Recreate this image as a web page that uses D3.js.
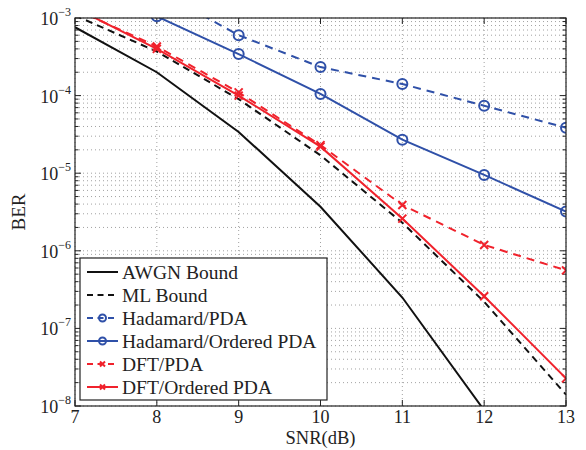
<!DOCTYPE html>
<html>
<head>
<meta charset="utf-8">
<script src="https://cdn.jsdelivr.net/npm/d3@7"></script>
<style>
  body { margin: 0; background: #fff; }
  text { font-family: "Liberation Serif", "DejaVu Serif", serif; fill: #222; }
</style>
</head>
<body>
<svg id="chart" width="586" height="450"></svg>
<script>
// SNR points (dB)
var snr = [7, 8, 9, 10, 11, 12, 13];

// BER values
var awgnBound = [7.6e-4, 2.0e-4, 3.4e-5, 3.7e-6, 2.5e-7, 8.8e-9];
var mlBound = [1.08e-3, 3.7e-4, 9.0e-5, 1.7e-5, 2.3e-6, 2.2e-7, 1.4e-8];
var hadamardPda = [6.0e-3, 2.3e-3, 6.0e-4, 2.33e-4, 1.41e-4, 7.4e-5, 3.85e-5];
var hadamardOrdered = [3.2e-3, 1.05e-3, 3.43e-4, 1.05e-4, 2.7e-5, 9.5e-6, 3.2e-6];
var dftPda = [1.3e-3, 4.3e-4, 1.1e-4, 2.3e-5, 3.9e-6, 1.19e-6, 5.6e-7];
var dftOrdered = [1.35e-3, 4.0e-4, 1.0e-4, 2.2e-5, 2.6e-6, 2.6e-7, 2.27e-8];

var xTicks = [7, 8, 9, 10, 11, 12, 13];
var yDecades = [-3, -4, -5, -6, -7, -8];

var blue = "#2f50a8", red = "#f0222c";

var series = [
  { name: "AWGN Bound", values: awgnBound, color: "#111", dash: null, marker: null },
  { name: "ML Bound", values: mlBound, color: "#111", dash: "7,5", marker: null },
  { name: "Hadamard/PDA", values: hadamardPda, color: blue, dash: "8,6", marker: "circle" },
  { name: "Hadamard/Ordered PDA", values: hadamardOrdered, color: blue, dash: null, marker: "circle" },
  { name: "DFT/PDA", values: dftPda, color: red, dash: "8,6", marker: "cross" },
  { name: "DFT/Ordered PDA", values: dftOrdered, color: red, dash: null, marker: "cross" }
];

var svg = d3.select("#chart");
var m = { left: 75, right: 566, top: 18, bottom: 406 };

var x = d3.scaleLinear().domain([7, 13]).range([m.left, m.right]);
var y = d3.scaleLog().domain([1e-8, 1e-3]).range([m.bottom, m.top]);

svg.append("defs").append("clipPath").attr("id", "clip")
  .append("rect")
  .attr("x", m.left).attr("y", m.top)
  .attr("width", m.right - m.left).attr("height", m.bottom - m.top);

// minor + major y values
var yAll = [];
for (var e = -8; e < -3; e++) {
  for (var k = 1; k <= 9; k++) yAll.push(k * Math.pow(10, e));
}
yAll.push(1e-3);

// grid
var grid = svg.append("g");
grid.selectAll(".gy").data(yAll).enter().append("line")
  .attr("x1", m.left).attr("x2", m.right)
  .attr("y1", d => y(d)).attr("y2", d => y(d))
  .attr("stroke", "#8a8a8a").attr("stroke-width", 0.8)
  .attr("stroke-dasharray", "1,3");
grid.selectAll(".gx").data(xTicks).enter().append("line")
  .attr("x1", d => x(d)).attr("x2", d => x(d))
  .attr("y1", m.top).attr("y2", m.bottom)
  .attr("stroke", "#8a8a8a").attr("stroke-width", 0.8)
  .attr("stroke-dasharray", "1,3");

// ticks (inward, all four sides)
var ticks = svg.append("g").attr("stroke", "#222").attr("stroke-width", 1);
yAll.forEach(function(v) {
  var major = Math.abs(Math.log10(v) - Math.round(Math.log10(v))) < 1e-9;
  var len = major ? 6 : 3.5;
  ticks.append("line").attr("x1", m.left).attr("x2", m.left + len).attr("y1", y(v)).attr("y2", y(v));
  ticks.append("line").attr("x1", m.right).attr("x2", m.right - len).attr("y1", y(v)).attr("y2", y(v));
});
xTicks.forEach(function(v) {
  ticks.append("line").attr("x1", x(v)).attr("x2", x(v)).attr("y1", m.bottom).attr("y2", m.bottom - 6);
  ticks.append("line").attr("x1", x(v)).attr("x2", x(v)).attr("y1", m.top).attr("y2", m.top + 6);
});

// series lines
var line = d3.line()
  .x((d, i) => x(snr[i]))
  .y(d => y(d));

var plot = svg.append("g").attr("clip-path", "url(#clip)");

function drawMarker(g, type, cx, cy, color) {
  if (type === "circle") {
    g.append("circle").attr("cx", cx).attr("cy", cy).attr("r", 5)
      .attr("fill", "none").attr("stroke", color).attr("stroke-width", 2);
  } else if (type === "cross") {
    var s = 4;
    g.append("path")
      .attr("d", "M" + (cx - s) + "," + (cy - s) + "L" + (cx + s) + "," + (cy + s) +
                 "M" + (cx - s) + "," + (cy + s) + "L" + (cx + s) + "," + (cy - s))
      .attr("stroke", color).attr("stroke-width", 2).attr("fill", "none");
  }
}

series.forEach(function(s) {
  plot.append("path")
    .datum(s.values)
    .attr("d", line)
    .attr("fill", "none")
    .attr("stroke", s.color)
    .attr("stroke-width", 2)
    .attr("stroke-dasharray", s.dash);
  if (s.marker) {
    s.values.forEach(function(v, i) {
      drawMarker(plot, s.marker, x(snr[i]), y(v), s.color);
    });
  }
});

// axes box
svg.append("rect")
  .attr("x", m.left).attr("y", m.top)
  .attr("width", m.right - m.left).attr("height", m.bottom - m.top)
  .attr("fill", "none").attr("stroke", "#222").attr("stroke-width", 1.2);

// y tick labels
var yl = svg.append("g");
yDecades.forEach(function(p) {
  var t = yl.append("text")
    .attr("x", 71).attr("y", y(Math.pow(10, p)) + 7)
    .attr("text-anchor", "end")
    .style("font-size", "18px");
  t.append("tspan").text("10");
  t.append("tspan").attr("dy", -9).style("font-size", "12px").text("\u2212" + (-p));
});

// x tick labels
svg.selectAll(".xl").data(xTicks).enter().append("text")
  .attr("x", d => x(d)).attr("y", 423)
  .attr("text-anchor", "middle")
  .style("font-size", "18px")
  .text(d => d);

svg.append("text")
  .attr("x", (m.left + m.right) / 2).attr("y", 444)
  .attr("text-anchor", "middle")
  .style("font-size", "18.5px")
  .text("SNR(dB)");

svg.append("text")
  .attr("transform", "translate(25," + 212 + ") rotate(-90)")
  .attr("text-anchor", "middle")
  .style("font-size", "19px")
  .text("BER");

// legend
var lg = svg.append("g");
lg.append("rect")
  .attr("x", 80).attr("y", 258).attr("width", 247).attr("height", 142)
  .attr("fill", "#fff").attr("stroke", "#222").attr("stroke-width", 1.2);

series.forEach(function(s, i) {
  var cy = 272 + i * 23;
  lg.append("line")
    .attr("x1", 87).attr("x2", 118).attr("y1", cy).attr("y2", cy)
    .attr("stroke", s.color).attr("stroke-width", 2)
    .attr("stroke-dasharray", s.dash ? "6,4.5" : null);
  if (s.marker) {
    var mg = lg.append("g");
    if (s.marker === "circle") {
      mg.append("circle").attr("cx", 102.5).attr("cy", cy).attr("r", 3.5)
        .attr("fill", "none").attr("stroke", s.color).attr("stroke-width", 2);
    } else {
      var r = 2.5;
      mg.append("path")
        .attr("d", "M" + (102.5 - r) + "," + (cy - r) + "L" + (102.5 + r) + "," + (cy + r) +
                   "M" + (102.5 - r) + "," + (cy + r) + "L" + (102.5 + r) + "," + (cy - r))
        .attr("stroke", s.color).attr("stroke-width", 2);
    }
  }
  lg.append("text")
    .attr("x", 122).attr("y", cy + 7)
    .style("font-size", "19.5px")
    .text(s.name);
});
</script>
</body>
</html>
